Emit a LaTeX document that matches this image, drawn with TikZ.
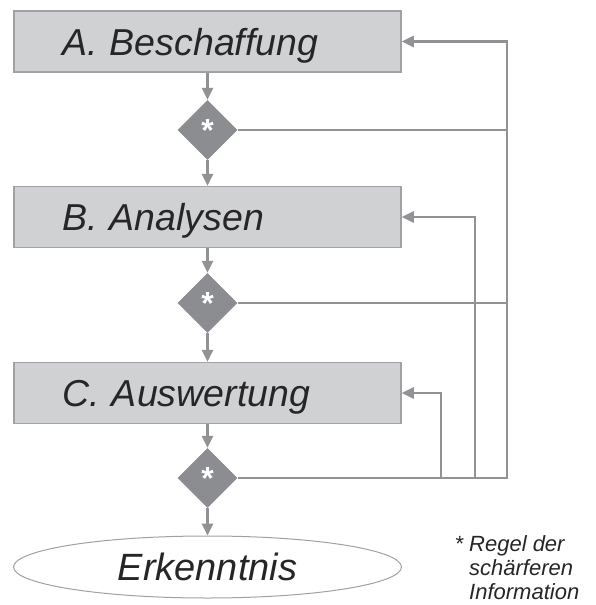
\documentclass[tikz,border=0pt]{standalone}
\usepackage{fontspec}
\setmainfont{Liberation Sans}
\usetikzlibrary{shapes.geometric,arrows.meta}
\definecolor{boxgray}{RGB}{208,209,211}
\definecolor{framegray}{RGB}{160,161,164}
\definecolor{linegray}{RGB}{145,146,150}
\definecolor{rulegray}{RGB}{140,141,145}
\definecolor{textgray}{RGB}{38,38,40}
\tikzset{
  stage/.style={draw=framegray,line width=1.5pt,fill=boxgray,minimum height=61pt,
    text width=291pt,inner xsep=48pt,inner ysep=0pt,align=left,text depth=0pt,
    font=\fontsize{37.5}{40}\selectfont\itshape,text=textgray},
  rule/.style={diamond,fill=rulegray,minimum width=60pt,minimum height=60pt,
    inner sep=0pt,text=white,font=\fontsize{32}{32}\selectfont\bfseries},
  flow/.style={draw=linegray,line width=2.6pt,-{Triangle[length=12pt,width=11pt]}},
  back/.style={draw=linegray,line width=2.6pt}
}
\begin{document}
\begin{tikzpicture}[x=1pt,y=-1pt]
\useasboundingbox (0,0) rectangle (596,605);
% steps
\node[stage] (beschaffung) at (207.5,41.5) {A. Beschaffung};
\node[stage] (analysen) at (207.5,217) {B. Analysen};
\node[stage] (auswertung) at (207.5,393) {C. Auswertung};
\node[rule] (r1) at (207.5,130) {*};
\node[rule] (r2) at (207.5,303) {*};
\node[rule] (r3) at (207.5,478) {*};
\node[ellipse,draw=framegray,line width=1pt,fill=white,minimum width=388pt,minimum height=62pt,
  font=\fontsize{38}{40}\selectfont\itshape,text=textgray] (erkenntnis) at (207.5,567) {Erkenntnis};
% main flow
\draw[flow] (beschaffung) -- (r1);
\draw[flow] (r1) -- (analysen);
\draw[flow] (analysen) -- (r2);
\draw[flow] (r2) -- (auswertung);
\draw[flow] (auswertung) -- (r3);
\draw[flow] (r3) -- (erkenntnis);
% feedback lines
\coordinate (outer) at (507,0);
\coordinate (middle) at (475,0);
\coordinate (inner) at (441,0);
\draw[back] (r1.east) -- (r1.east -| outer);
\draw[back] (r2.east) -- (r2.east -| outer);
\draw[flow] (r3.east) -- (r3.east -| outer) -- (beschaffung.east -| outer) -- (beschaffung.east);
\draw[flow] (r3.east -| middle) -- (analysen.east -| middle) -- (analysen.east);
\draw[flow] (r3.east -| inner) -- (auswertung.east -| inner) -- (auswertung.east);
% note
\node[anchor=north west,align=left,inner sep=0pt,text=textgray,
  font=\fontsize{22}{24}\selectfont\itshape] (note) at (469,535)
  {\llap{* }Regel der\\schärferen\\Information};
\end{tikzpicture}
\end{document}
